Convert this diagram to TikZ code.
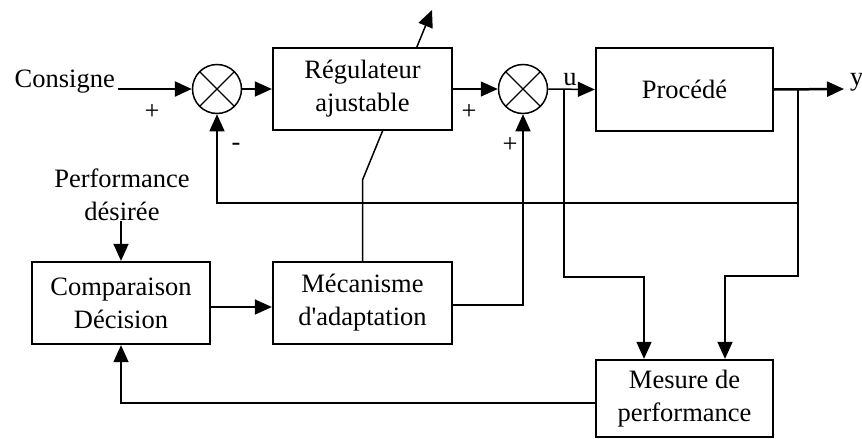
\documentclass[tikz,border=0pt]{standalone}
\usepackage{fontspec}
\setmainfont{Liberation Serif}
\usetikzlibrary{arrows.meta,calc}
\begin{document}
\begin{tikzpicture}[x=1pt,y=-1pt,
  font=\fontsize{26.5}{33}\selectfont,
  box/.style={draw,line width=2.3pt,rectangle,inner sep=0pt,align=center,fill=white},
  summer/.style={draw,circle,line width=1.5pt,inner sep=0pt,minimum size=49pt,
    path picture={\draw[line width=1.3pt] (path picture bounding box.north west)--(path picture bounding box.south east)
      (path picture bounding box.north east)--(path picture bounding box.south west);}},
  wire/.style={line width=1.5pt},
  arr/.style={wire,-{Triangle[length=17pt,width=15pt]}},
  thickarr/.style={line width=2.5pt,-{Triangle[length=17pt,width=15pt]}},
  lbl/.style={inner sep=0pt}]
\useasboundingbox (0,0) rectangle (862,439);

% nodes
\node[summer] (s1) at (217,89) {};
\node[summer] (s2) at (523,89) {};
\node[box,minimum width=177pt,minimum height=83pt] (proc) at (684.5,89.5) {Procédé};
\node[box,minimum width=178pt,minimum height=82pt] (comp) at (121,303) {Comparaison\\Décision};
\node[box,minimum width=179pt,minimum height=82pt] (meca) at (362.5,303) {Mécanisme\\d\textquotesingle adaptation};
\node[box,minimum width=177pt,minimum height=77pt] (mes) at (684.5,398.5) {Mesure de\\performance};

% adaptation line passing behind the adjustable controller
\coordinate (bend) at (362.5,180);
\coordinate (adtip) at (432,10);
\draw[arr] (meca.north) -- (bend) -- (adtip);
\node[box,minimum width=179pt,minimum height=82pt] (reg) at (362.5,89) {Régulateur\\ajustable};

% labels
\node[lbl,anchor=east] (cons) at (115,82) {Consigne};
\coordinate (cin) at (118,89);
\node[lbl,align=center] (perf) at (122,195) {Performance\\désirée};
\node[lbl] (pl1) at (152,112) {+};
\node[lbl] (ml1) at (236,147) {-};
\node[lbl] (pl2) at (469,112) {+};
\node[lbl] (pl3) at (510,145) {+};
\node[lbl] (ulab) at (570,80) {u};
\node[lbl,anchor=west] (ylab) at (850,82) {y};
\coordinate (yout) at (844,89);
\coordinate (ubr) at (564,89);
\coordinate (ybr) at (798,89);

% connectors
\draw[thickarr] (cin) -- (s1.west);
\draw[arr] (s1.east) -- (reg.west);
\draw[arr] (reg.east) -- (s2.west);
\draw[arr] (s2.east) -- (proc.west);
\draw[thickarr] (proc.east) -- (yout);
\draw[arr] (ybr) |- (217,203) -- (s1.south);
\draw[arr] (perf.south -| comp.north) -- (comp.north);
\draw[arr] ($(comp.east)+(0,4)$) -- ($(meca.west)+(0,4)$);
\draw[arr] ($(meca.east)+(0,2)$) -| (s2.south);
\draw[arr] (ubr) |- ($(mes.north)+(-40.5,-82)$) -- ($(mes.north)+(-40.5,0)$);
\draw[arr] (ybr) |- ($(mes.north)+(40.5,-83)$) -- ($(mes.north)+(40.5,0)$);
\draw[arr] ($(mes.west)+(0,4.5)$) -| (comp.south);
\end{tikzpicture}
\end{document}
